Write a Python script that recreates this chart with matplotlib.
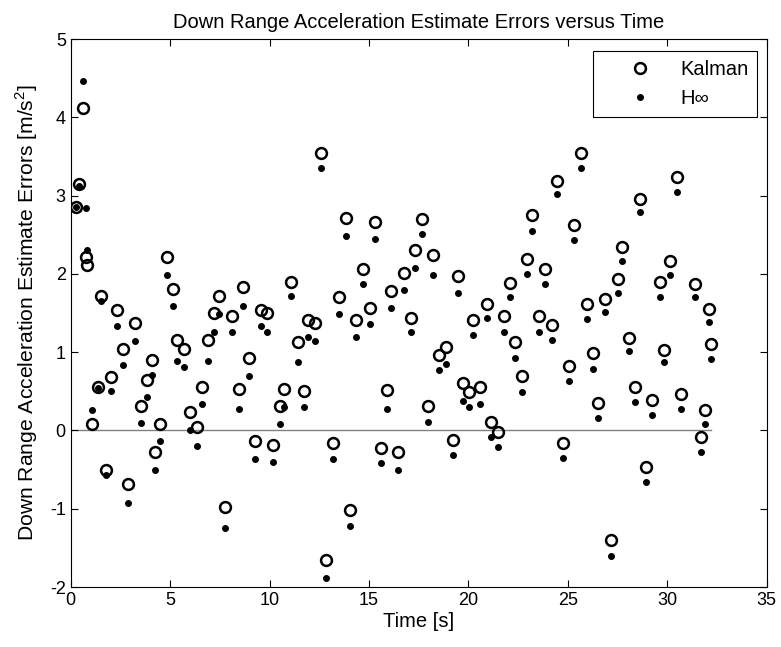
import matplotlib
matplotlib.use("Agg")
import matplotlib.pyplot as plt
import numpy as np

plt.rcParams['font.family'] = ['Liberation Sans', 'DejaVu Sans']
plt.rcParams['mathtext.fontset'] = 'custom'
plt.rcParams['mathtext.rm'] = 'Liberation Sans'
plt.rcParams['axes.unicode_minus'] = False

# time samples [s]
t = [0.25, 0.42, 0.60, 0.75, 0.82, 1.07, 1.35, 1.52, 1.77, 2.02,
     2.32, 2.64, 2.88, 3.21, 3.53, 3.83, 4.10, 4.23, 4.48, 4.82,
     5.15, 5.37, 5.69, 6.00, 6.36, 6.58, 6.91, 7.21, 7.48, 7.78,
     8.10, 8.45, 8.67, 8.97, 9.25, 9.55, 9.88, 10.17, 10.51, 10.74,
     11.09, 11.41, 11.73, 11.93, 12.28, 12.60, 12.83, 13.18, 13.49, 13.82,
     14.07, 14.37, 14.71, 15.03, 15.28, 15.58, 15.91, 16.13, 16.47, 16.78,
     17.10, 17.33, 17.67, 17.99, 18.20, 18.52, 18.88, 19.21, 19.46, 19.74,
     20.01, 20.25, 20.58, 20.91, 21.12, 21.47, 21.79, 22.09, 22.34, 22.67,
     22.97, 23.22, 23.56, 23.86, 24.20, 24.43, 24.76, 25.07, 25.32, 25.65,
     25.95, 26.27, 26.52, 26.86, 27.16, 27.54, 27.74, 28.08, 28.38, 28.63,
     28.95, 29.25, 29.62, 29.83, 30.12, 30.47, 30.70, 31.05, 31.38, 31.68,
     31.89, 32.12, 32.22]

kalman = [2.86, 3.15, 4.12, 2.21, 2.11, 0.08, 0.55, 1.72, -0.50, 0.68,
          1.54, 1.04, -0.69, 1.37, 0.31, 0.64, 0.90, -0.28, 0.08, 2.21,
          1.81, 1.15, 1.04, 0.23, 0.05, 0.56, 1.15, 1.50, 1.72, -0.98,
          1.46, 0.53, 1.83, 0.92, -0.13, 1.54, 1.50, -0.18, 0.31, 0.53,
          1.90, 1.13, 0.51, 1.41, 1.37, 3.54, -1.65, -0.16, 1.70, 2.72,
          -1.02, 1.41, 2.06, 1.57, 2.66, -0.22, 0.52, 1.78, -0.28, 2.01,
          1.44, 2.31, 2.70, 0.31, 2.24, 0.97, 1.06, -0.12, 1.97, 0.60,
          0.49, 1.41, 0.55, 1.62, 0.11, -0.02, 1.46, 1.88, 1.13, 0.69,
          2.19, 2.75, 1.46, 2.06, 1.35, 3.19, -0.16, 0.82, 2.62, 3.54,
          1.62, 0.99, 0.35, 1.68, -1.40, 1.94, 2.34, 1.18, 0.55, 2.96,
          -0.47, 0.39, 1.89, 1.03, 2.16, 3.24, 0.47, 4.22, 1.87, -0.09,
          0.26, 1.55, 1.11]

hinf = [2.86, 3.12, 4.47, 2.84, 2.30, 0.26, 0.54, 1.65, -0.57, 0.51,
        1.33, 0.83, -0.93, 1.14, 0.09, 0.43, 0.71, -0.50, -0.13, 1.98,
        1.59, 0.89, 0.81, 0.00, -0.20, 0.34, 0.89, 1.26, 1.49, -1.24,
        1.26, 0.28, 1.59, 0.69, -0.37, 1.34, 1.26, -0.40, 0.08, 0.30,
        1.72, 0.87, 0.30, 1.20, 1.14, 3.35, -1.88, -0.37, 1.49, 2.49,
        -1.22, 1.20, 1.87, 1.36, 2.45, -0.42, 0.28, 1.57, -0.50, 1.80,
        1.26, 2.08, 2.51, 0.11, 1.99, 0.77, 0.85, -0.31, 1.75, 0.38,
        0.30, 1.22, 0.34, 1.43, -0.09, -0.21, 1.26, 1.71, 0.93, 0.49,
        2.00, 2.55, 1.26, 1.87, 1.16, 3.02, -0.35, 0.63, 2.43, 3.35,
        1.42, 0.79, 0.16, 1.51, -1.60, 1.75, 2.17, 1.01, 0.36, 2.79,
        -0.66, 0.20, 1.71, 0.87, 1.98, 3.04, 0.28, 4.04, 1.70, -0.28,
        0.08, 1.38, 0.91]

fig = plt.figure(figsize=(7.81, 6.47), dpi=100)
ax = fig.add_axes([0.0905, 0.0927, 0.8912, 0.847])

ax.plot([0, max(t)], [0, 0], color='#808080', lw=1.0, zorder=1)
ax.plot(t, kalman, 'o', color='black', mfc='none', ms=7.8, mew=1.8,
        label='Kalman', zorder=3)
ax.plot(t, hinf, '.', color='black', ms=8, label='H∞', zorder=2)

ax.set_xlim(0, 35)
ax.set_ylim(-2, 5)
ax.set_xticks(np.arange(0, 36, 5))
ax.set_yticks(np.arange(-2, 6, 1))
ax.tick_params(direction='in', top=True, right=True, length=5,
               labelsize=13, width=0.8)
ax.set_xlabel('Time [s]', fontsize=14.5, labelpad=2)
ax.set_ylabel(r'Down Range Acceleration Estimate Errors [m/s$^2$]',
              fontsize=15.2, labelpad=7)
ax.set_title('Down Range Acceleration Estimate Errors versus Time',
             fontsize=14.5, pad=8)

leg = ax.legend(loc='upper right', bbox_to_anchor=(0.9865, 0.9786),
                fontsize=14.5, fancybox=False, framealpha=1,
                edgecolor='black', borderpad=0.45, handlelength=3.7,
                handletextpad=0.15, labelspacing=0.5, borderaxespad=0)
leg.get_frame().set_linewidth(0.8)
leg.set_zorder(5)

fig.savefig('out.png', dpi=100)
